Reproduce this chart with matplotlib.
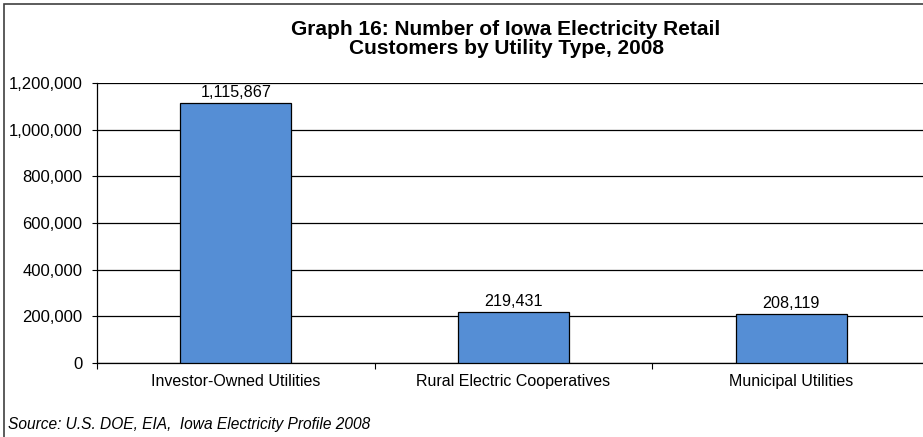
import matplotlib.pyplot as plt
from matplotlib.patches import Rectangle
from matplotlib.ticker import FuncFormatter

categories = ["Investor-Owned Utilities", "Rural Electric Cooperatives", "Municipal Utilities"]
customers = [1115867, 219431, 208119]
yticks = [0, 200000, 400000, 600000, 800000, 1000000, 1200000]

plt.rcParams['font.family'] = ['Liberation Sans', 'DejaVu Sans']

W, H = 923, 437
fig = plt.figure(figsize=(W / 100, H / 100), dpi=100)

# outer frame (right/bottom edges fall off the canvas)
fig.patches.append(Rectangle((4 / W, -0.1), 1.2, (H - 4) / H + 0.1, transform=fig.transFigure,
                             fill=False, edgecolor='#404040', linewidth=1.2))

ax = fig.add_axes([97 / W, 74 / H, 833 / W, 280 / H])
x = range(len(categories))
bars = ax.bar(x, customers, width=0.4, color='#558ED5', edgecolor='black', linewidth=0.9, zorder=3)

for b, v in zip(bars, customers):
    ax.text(b.get_x() + b.get_width() / 2, v + 26000, f"{v:,}", ha='center', va='baseline', fontsize=11.6)

ax.set_xlim(-0.5, len(categories) - 0.5)
ax.set_ylim(0, 1200000)
ax.set_yticks(yticks)
ax.yaxis.set_major_formatter(FuncFormatter(lambda v, p: f"{int(v):,}"))
ax.yaxis.grid(True, color='black', linewidth=0.9, zorder=0)

ax.set_xticks(list(x))
ax.set_xticklabels(categories)
ax.set_xticks([i + 0.5 for i in range(len(categories) - 1)] + [-0.5], minor=True)
ax.tick_params(axis='x', which='major', length=0, pad=8, labelsize=11.5)
ax.tick_params(axis='x', which='minor', length=4, width=0.8, direction='out')
ax.tick_params(axis='y', length=3.6, width=0.8, labelsize=12, pad=7)

for s in ['top', 'right']:
    ax.spines[s].set_visible(False)
ax.spines['left'].set_linewidth(0.9)
ax.spines['bottom'].set_linewidth(0.9)

fig.text(506 / W, 1 - 39 / H, "Graph 16: Number of Iowa Electricity Retail\nCustomers by Utility Type, 2008",
         ha='center', va='center', fontsize=15, fontweight='bold', linespacing=0.98)
fig.text(8 / W, 1 - 424 / H, "Source: U.S. DOE, EIA,  Iowa Electricity Profile 2008",
         ha='left', va='center', fontsize=11.2, style='italic')

fig.savefig("out.png", dpi=100)
